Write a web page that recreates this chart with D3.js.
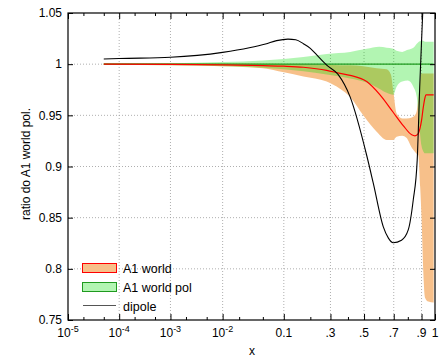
<!DOCTYPE html>
<html><head><meta charset="utf-8">
<script src="https://cdn.jsdelivr.net/npm/d3@7"></script>
<style>body{margin:0;background:#fff}svg{display:block}text{font-family:"Liberation Sans",Arial,Helvetica,sans-serif;fill:#000}</style>
</head><body><svg id="c" width="439" height="359"></svg>
<script>
// ---- data ----
const xTickVals = [1e-5, 1e-4, 1e-3, 1e-2, 0.1, 0.3, 0.5, 0.7, 0.9, 1];
const xTickBase = ["10", "10", "10", "10", "0.1", ".3", ".5", ".7", ".9", "1"];
const xTickExp  = ["-5", "-4", "-3", "-2", "", "", "", "", "", ""];
const xMinorTicks = [2e-5, 5e-5, 2e-4, 5e-4, 2e-3, 5e-3, 2e-2, 5e-2, 0.2, 0.4, 0.6, 0.8];
const xGrid = [1e-4, 1e-3, 1e-2, 0.1, 0.3, 0.5, 0.7, 0.9];
const yTicks = [0.75, 0.8, 0.85, 0.9, 0.95, 1, 1.05];
const yTickLabels = ["0.75", "0.8", "0.85", "0.9", "0.95", "1", "1.05"];
const yGrid = [0.8, 0.85, 0.9, 0.95, 1];

// A1 world uncertainty band
const worldBandX = [5e-5, 1e-4, 1e-3, 1e-2, 0.05, 0.1, 0.17, 0.28, 0.353, 0.413, 0.495, 0.583, 0.651, 0.68, 0.696, 0.72, 0.76, 0.79, 0.83, 0.86, 0.876, 0.89, 0.9, 0.912, 0.925, 0.95, 0.99];
const worldLow   = [0.9992, 0.9992, 0.999, 0.998, 0.996, 0.992, 0.988, 0.983, 0.976, 0.968, 0.950, 0.934, 0.926, 0.926, 0.926, 0.929, 0.930, 0.928, 0.918, 0.913, 0.911, 0.88, 0.85, 0.80, 0.772, 0.768, 0.767];
const worldHigh  = [1.0008, 1.0008, 1.0008, 1.0006, 1.0004, 1.0002, 1.0, 0.9995, 0.999, 0.999, 0.998, 0.996, 0.995, 0.99, 0.975, 0.952, 0.947, 0.947, 0.948, 0.952, 0.965, 0.985, 0.991, 0.991, 0.991, 0.991, 0.991];
// A1 world central
const worldX = [5e-5, 1e-3, 1e-2, 0.05, 0.1, 0.17, 0.28, 0.353, 0.413, 0.517, 0.6055, 0.696, 0.767, 0.828, 0.852, 0.875, 0.888, 0.9, 0.912, 0.925, 0.932, 0.95, 0.99];
const worldY = [1.0, 0.9998, 0.9993, 0.9985, 0.998, 0.997, 0.994, 0.991, 0.989, 0.983, 0.970, 0.953, 0.940, 0.931, 0.930, 0.932, 0.937, 0.945, 0.957, 0.967, 0.970, 0.970, 0.970];
// A1 world pol band
const polBandX = [5e-5, 1e-3, 1e-2, 0.05, 0.1, 0.17, 0.28, 0.413, 0.517, 0.6, 0.651, 0.696, 0.72, 0.76, 0.8, 0.84, 0.865, 0.88, 0.9, 0.912, 0.925, 0.99];
const polHigh = [1.0008, 1.001, 1.002, 1.0035, 1.005, 1.007, 1.010, 1.012, 1.015, 1.017, 1.016, 1.015, 1.013, 1.012, 1.014, 1.016, 1.020, 1.022, 1.023, 1.023, 1.022, 1.022];
const polLow  = [0.9992, 0.999, 0.998, 0.9965, 0.995, 0.993, 0.990, 0.986, 0.982, 0.976, 0.972, 0.970, 0.978, 0.983, 0.984, 0.978, 0.968, 0.945, 0.92, 0.915, 0.913, 0.913];
const polX = [5e-5, 0.99];
const polY = [1, 1];
// dipole
const dipoleX = [5e-5, 1e-4, 1e-3, 1e-2, 0.03, 0.055, 0.08, 0.113, 0.14, 0.17, 0.2, 0.23, 0.28, 0.342, 0.413, 0.517, 0.56, 0.628, 0.663, 0.696, 0.755, 0.803, 0.839, 0.868, 0.888, 0.908, 0.925];
const dipoleY = [1.005, 1.0055, 1.0067, 1.0115, 1.016, 1.0197, 1.023, 1.0245, 1.0238, 1.020, 1.0155, 1.009, 0.999, 0.990, 0.968, 0.911, 0.884, 0.841, 0.830, 0.8255, 0.828, 0.838, 0.867, 0.906, 0.983, 1.048, 1.10];

const legendNames = ["A1 world", "A1 world pol", "dipole"];

// ---- chart ----
const svg = d3.select("#c");
const L = 68, R = 435, T = 13, B = 320;
const tf = x => Math.log(x) + 5 * x;
const xs = d3.scaleLinear().domain([tf(1e-5), tf(1)]).range([L, R]);
const X = x => xs(tf(x));
const y = d3.scaleLinear().domain([0.75, 1.05]).range([B, T]);

svg.append("defs").append("clipPath").attr("id", "clip")
  .append("rect").attr("x", L).attr("y", T).attr("width", R - L).attr("height", B - T);

// grid
const grid = svg.append("g").attr("stroke", "#9a9a9a").attr("stroke-width", 0.8).attr("stroke-dasharray", "1,2");
grid.selectAll(".vg").data(xGrid).join("line")
  .attr("x1", d => X(d)).attr("x2", d => X(d)).attr("y1", T).attr("y2", B);
grid.selectAll(".hg").data(yGrid).join("line")
  .attr("x1", L).attr("x2", R).attr("y1", d => y(d)).attr("y2", d => y(d));

const plot = svg.append("g").attr("clip-path", "url(#clip)");
const curve = d3.curveMonotoneX;

const worldBand = worldBandX.map((x, i) => ({x, lo: worldLow[i], hi: worldHigh[i]}));
const polBand = polBandX.map((x, i) => ({x, lo: polLow[i], hi: polHigh[i]}));
const area = d3.area().x(d => X(d.x)).y0(d => y(d.lo)).y1(d => y(d.hi)).curve(curve);

plot.append("path").datum(worldBand).attr("d", area).attr("fill", "#f7c08a");
plot.append("path").datum(polBand).attr("d", area).attr("fill", "rgb(0,222,0)").attr("fill-opacity", 0.3);

const line = d3.line().x(d => X(d[0])).y(d => y(d[1])).curve(curve);
plot.append("path").datum(polX.map((x, i) => [x, polY[i]])).attr("d", line)
  .attr("fill", "none").attr("stroke", "#1f9a1f").attr("stroke-width", 1.3);
plot.append("path").datum(worldX.map((x, i) => [x, worldY[i]])).attr("d", line)
  .attr("fill", "none").attr("stroke", "#ff0000").attr("stroke-width", 1.2);
plot.append("path").datum(dipoleX.map((x, i) => [x, dipoleY[i]])).attr("d", line)
  .attr("fill", "none").attr("stroke", "#000").attr("stroke-width", 1.1);

// axes ticks (inward, all four sides)
const tv = xTickVals.map(tf);
const mv = xMinorTicks.map(tf);
function styleAxis(g) { g.select(".domain").remove(); g.selectAll("text").remove(); g.selectAll("line").attr("stroke", "#000"); }
svg.append("g").attr("transform", `translate(0,${B})`).call(d3.axisBottom(xs).tickValues(tv).tickSize(-6)).call(styleAxis);
svg.append("g").attr("transform", `translate(0,${B})`).call(d3.axisBottom(xs).tickValues(mv).tickSize(-3)).call(styleAxis);
svg.append("g").attr("transform", `translate(0,${T})`).call(d3.axisTop(xs).tickValues(tv).tickSize(-6)).call(styleAxis);
svg.append("g").attr("transform", `translate(0,${T})`).call(d3.axisTop(xs).tickValues(mv).tickSize(-3)).call(styleAxis);
svg.append("g").attr("transform", `translate(${L},0)`).call(d3.axisLeft(y).tickValues(yTicks).tickSize(-5)).call(styleAxis);
svg.append("g").attr("transform", `translate(${R},0)`).call(d3.axisRight(y).tickValues(yTicks).tickSize(-5)).call(styleAxis);

// frame
svg.append("rect").attr("x", L).attr("y", T).attr("width", R - L).attr("height", B - T)
  .attr("fill", "none").attr("stroke", "#000").attr("stroke-width", 1.2);

// x tick labels
const xl = svg.append("g").attr("font-size", 12);
xTickVals.forEach((v, i) => {
  const t = xl.append("text").attr("x", xs(tv[i])).attr("y", 337).attr("text-anchor", "middle");
  t.append("tspan").text(xTickBase[i]);
  if (xTickExp[i]) t.append("tspan").attr("font-size", 9).attr("dy", -5).text(xTickExp[i]);
});
// y tick labels
svg.append("g").attr("font-size", 12).selectAll("text").data(yTicks).join("text")
  .attr("x", 62).attr("y", d => y(d)).attr("dy", "0.35em").attr("text-anchor", "end")
  .text((d, i) => yTickLabels[i]);

// axis titles
svg.append("text").attr("x", 252).attr("y", 355).attr("text-anchor", "middle").attr("font-size", 12).text("x");
svg.append("text").attr("transform", "translate(30,164) rotate(-90)").attr("text-anchor", "middle")
  .attr("font-size", 12).text("ratio do A1 world pol.");

// legend
const lg = svg.append("g");
lg.append("rect").attr("x", 82.5).attr("y", 263.5).attr("width", 34).attr("height", 9)
  .attr("fill", "#f7c08a").attr("stroke", "#ff0000").attr("stroke-width", 1);
lg.append("rect").attr("x", 82.5).attr("y", 282.5).attr("width", 34).attr("height", 9)
  .attr("fill", "#b2f5b2").attr("stroke", "#1f9a1f").attr("stroke-width", 1);
lg.append("line").attr("x1", 83).attr("x2", 116).attr("y1", 305.5).attr("y2", 305.5)
  .attr("stroke", "#555").attr("stroke-width", 1.2);
lg.selectAll("text").data(legendNames).join("text")
  .attr("x", 123).attr("y", (d, i) => 273 + i * 19).attr("font-size", 12.5).text(d => d);
</script></body></html>
